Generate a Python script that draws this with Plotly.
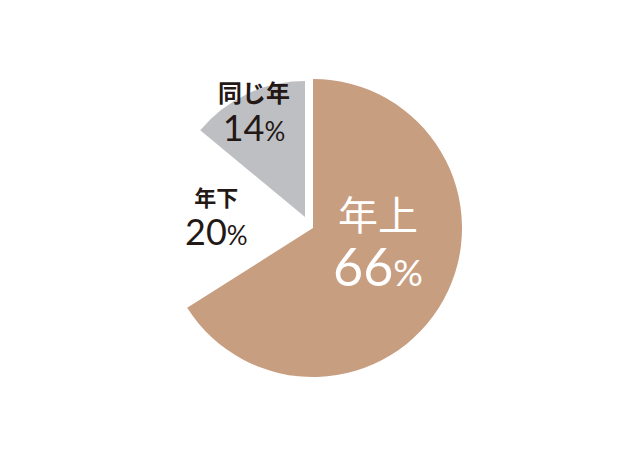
import plotly.graph_objects as go

# data
labels = ['年上', '年下', '同じ年']
values = [66, 20, 14]

tan = '#C89E81'
gray = '#BEBFC3'
dark = '#231815'

W, H = 640, 465
OFF = 8  # page body margin


def dom(cx, cy, r):
    # pixel circle -> paper domain
    cx, cy = cx - OFF, cy - OFF
    return dict(x=[(cx - r) / W, (cx + r) / W],
                y=[(H - cy - r) / H, (H - cy + r) / H])


fig = go.Figure()

# big tan slice (slightly offset / larger, as in the original artwork)
fig.add_trace(go.Pie(
    labels=labels, values=values, sort=False, direction='clockwise', rotation=0,
    marker=dict(colors=[tan, 'rgba(0,0,0,0)', 'rgba(0,0,0,0)'], line=dict(width=0)),
    textinfo='none', hoverinfo='label+percent', showlegend=False,
    domain=dom(313, 228, 149),
))

# smaller pie with the gray slice
fig.add_trace(go.Pie(
    labels=labels, values=values, sort=False, direction='clockwise', rotation=0,
    marker=dict(colors=['rgba(0,0,0,0)', 'rgba(255,255,255,0)', gray], line=dict(width=0)),
    textinfo='none', hoverinfo='label+percent', showlegend=False,
    domain=dom(305, 217, 136),
))

# label centre (px), line spacing base size, label size, number size, colour, bold
lab_style = [
    (378, 244, 43, 40, 52, '#FFFFFF', False),
    (216, 218, 30, 22, 36, dark, True),
    (254, 113, 30, 24, 36, dark, True),
]

for lab, v, (x, y, base, ls, ns, col, bold) in zip(labels, values, lab_style):
    name = f'<b>{lab}</b>' if bold else lab
    txt = (f"<span style='font-size:{ls}px'>{name}</span><br>"
           f"<span style='font-size:{ns}px'>{v}</span>"
           f"<span style='font-size:{round(ns * 0.72)}px'>%</span>")
    fig.add_annotation(x=(x - OFF) / W, y=1 - (y - OFF) / H, xref='paper', yref='paper',
                       xanchor='center', yanchor='middle',
                       text=txt, showarrow=False,
                       font=dict(family='Lato, "Noto Sans CJK JP"', size=base, color=col))

fig.update_layout(width=W, height=H, margin=dict(l=0, r=0, t=0, b=0),
                  paper_bgcolor='white', plot_bgcolor='white')

fig.write_html("out.html")
